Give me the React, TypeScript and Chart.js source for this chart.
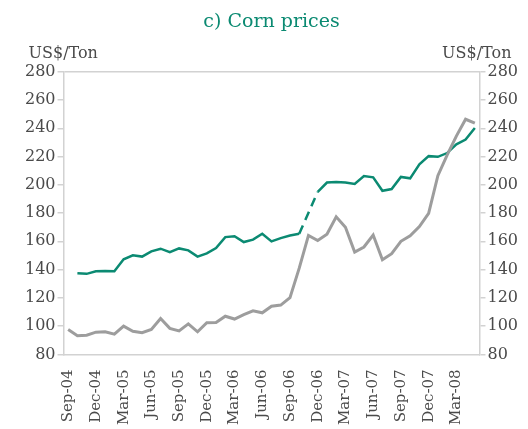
import React, { useEffect, useRef } from "react";
import { Chart, registerables } from "chart.js";

Chart.register(...registerables);

const months: string[] = [
  "Sep-04", "Oct-04", "Nov-04", "Dec-04", "Jan-05", "Feb-05", "Mar-05", "Apr-05", "May-05",
  "Jun-05", "Jul-05", "Aug-05", "Sep-05", "Oct-05", "Nov-05", "Dec-05", "Jan-06", "Feb-06",
  "Mar-06", "Apr-06", "May-06", "Jun-06", "Jul-06", "Aug-06", "Sep-06", "Oct-06", "Nov-06",
  "Dec-06", "Jan-07", "Feb-07", "Mar-07", "Apr-07", "May-07", "Jun-07", "Jul-07", "Aug-07",
  "Sep-07", "Oct-07", "Nov-07", "Dec-07", "Jan-08", "Feb-08", "Mar-08", "Apr-08", "May-08",
];

const grayValues: number[] = [
  97.6, 93.2, 93.6, 95.7, 96, 94.3, 100, 96.4, 95.3,
  97.6, 105.4, 98.4, 96.6, 101.6, 96, 102.4, 102.6, 107,
  105, 108.1, 110.8, 109.4, 114.1, 114.9, 120.2, 141, 164.2,
  160.6, 165, 177.4, 170, 152.4, 156, 164.5, 147, 151.3,
  160, 164, 170.5, 179.8, 206.5, 221, 234.5, 246.4, 243.6,
];

const tealValues: (number | null)[] = [
  null, 137.4, 137, 138.8, 139, 138.8, 147.3, 150.1, 149.2,
  152.9, 154.8, 152.4, 155, 153.6, 149.2, 151.5, 155.2, 163,
  163.6, 159.5, 161.2, 165.4, 160, 162.3, 164.1, 165.4, null,
  195, 201.6, 202, 201.7, 200.6, 206.2, 205.3, 195.8, 197,
  205.6, 204.6, 214.5, 220.3, 219.8, 222.5, 228.7, 232, 240.2,
];

const titleText = "c) Corn prices";
const unitText = "US$/Ton";
const yMin = 80;
const yMax = 280;
const yStep = 20;

const TEAL = "#0b8a72";
const GRAY = "#9d9d9d";
const TEXT = "#4a4a4a";
const AXIS = "#d2d2d2";
const FONT = "'DejaVu Serif', serif";

const unitPlugin = {
  id: "unitLabels",
  afterDraw(chart: any) {
    const { ctx, chartArea } = chart;
    ctx.save();
    ctx.font = `16px ${FONT}`;
    ctx.fillStyle = TEXT;
    ctx.textBaseline = "middle";
    ctx.textAlign = "left";
    ctx.fillText(unitText, chartArea.left - 35, chartArea.top - 18);
    ctx.textAlign = "right";
    ctx.fillText(unitText, chartArea.right + 32, chartArea.top - 18);
    ctx.restore();
  },
};

export default function App() {
  const canvasRef = useRef<HTMLCanvasElement | null>(null);

  useEffect(() => {
    if (!canvasRef.current) return;
    const yTicks = {
      color: TEXT,
      font: { family: FONT, size: 16 },
      padding: 2,
      stepSize: yStep,
    };
    const yGrid = {
      drawOnChartArea: true,
      drawTicks: true,
      tickLength: 6,
      tickColor: AXIS,
      color: (c: any) => (c.tick && c.tick.value === yMax ? AXIS : "rgba(0,0,0,0)"),
      lineWidth: 1.5,
    };
    const chart = new Chart(canvasRef.current, {
      type: "line",
      data: {
        labels: months,
        datasets: [
          {
            label: "Gray",
            data: grayValues,
            borderColor: GRAY,
            borderWidth: 3,
            pointRadius: 0,
            tension: 0,
            yAxisID: "y",
          },
          {
            label: "Teal",
            data: tealValues,
            borderColor: TEAL,
            borderWidth: 2.5,
            pointRadius: 0,
            tension: 0,
            spanGaps: true,
            yAxisID: "y",
            segment: {
              borderDash: (c: any) => (c.p0.skip || c.p1.skip ? [9, 6] : undefined),
            },
          },
        ],
      },
      options: {
        animation: false,
        responsive: false,
        maintainAspectRatio: false,
        layout: { padding: { left: 23, right: 8, top: 0, bottom: -11 } },
        plugins: {
          legend: { display: false },
          tooltip: { enabled: false },
          title: {
            display: true,
            text: titleText,
            color: TEAL,
            fullSize: false,
            font: { family: FONT, size: 19, weight: "normal" },
            padding: { top: 11, bottom: 38 },
          },
        },
        scales: {
          x: {
            offset: true,
            grid: { display: false, drawTicks: false },
            border: { display: true, color: AXIS, width: 1.5 },
            ticks: {
              autoSkip: false,
              maxRotation: 90,
              minRotation: 90,
              padding: 15,
              color: TEXT,
              font: { family: FONT, size: 15 },
              callback: (_v: any, i: number) => (i % 3 === 0 ? months[i] : ""),
            },
          },
          y: {
            position: "left",
            min: yMin,
            max: yMax,
            ticks: yTicks,
            grid: yGrid,
            border: { display: true, color: AXIS, width: 1.5 },
          },
          y2: {
            position: "right",
            min: yMin,
            max: yMax,
            ticks: yTicks,
            grid: { ...yGrid, drawOnChartArea: false },
            border: { display: true, color: AXIS, width: 1.5 },
          },
        },
      },
      plugins: [unitPlugin],
    } as any);
    return () => chart.destroy();
  }, []);

  return (
    <div style={{ position: "absolute", left: 0, top: 0, width: 528, height: 429, background: "#fff" }}>
      <canvas ref={canvasRef} width={528} height={429} style={{ display: "block" }} />
    </div>
  );
}
